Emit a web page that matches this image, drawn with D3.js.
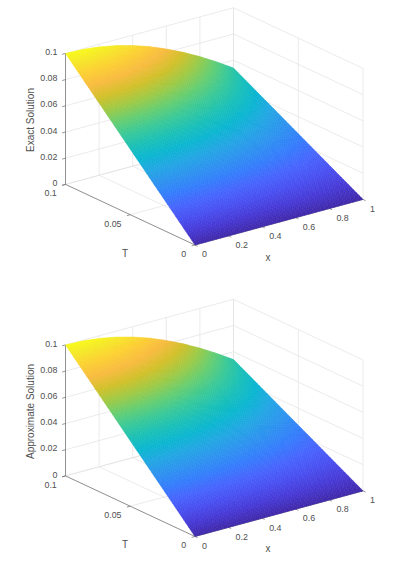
<!DOCTYPE html>
<html>
<head>
<meta charset="utf-8">
<script src="https://cdn.jsdelivr.net/npm/d3@7"></script>
<style>
  html, body { margin: 0; padding: 0; background: #fff; }
  text { font-family: "Liberation Sans", Arial, sans-serif; fill: #505050; }
</style>
</head>
<body>
<div id="chart"></div>
<script>
// grid of the surface
var xGrid = [0, 0.1, 0.2, 0.3, 0.4, 0.5, 0.6, 0.7, 0.8, 0.9, 1];
var tGrid = [0, 0.01, 0.02, 0.03, 0.04, 0.05, 0.06, 0.07, 0.08, 0.09, 0.1];

// one row per T, one column per x
var zExact = [
  [0, 0, 0, 0, 0, 0, 0, 0, 0, 0, 0],
  [.0100, .0100, .0098, .0096, .0092, .0088, .0083, .0076, .0070, .0062, .0054],
  [.0200, .0199, .0196, .0191, .0184, .0176, .0165, .0153, .0139, .0124, .0108],
  [.0300, .0299, .0294, .0287, .0276, .0263, .0248, .0229, .0209, .0187, .0162],
  [.0400, .0398, .0392, .0382, .0368, .0351, .0330, .0306, .0279, .0249, .0216],
  [.0500, .0498, .0490, .0478, .0461, .0439, .0413, .0382, .0348, .0311, .0270],
  [.0600, .0597, .0588, .0573, .0553, .0527, .0495, .0459, .0418, .0373, .0324],
  [.0700, .0697, .0686, .0669, .0645, .0614, .0578, .0535, .0488, .0435, .0378],
  [.0800, .0796, .0784, .0764, .0737, .0702, .0660, .0612, .0557, .0497, .0432],
  [.0900, .0896, .0882, .0860, .0829, .0790, .0743, .0688, .0627, .0559, .0486],
  [.1000, .0995, .0980, .0955, .0921, .0878, .0825, .0765, .0697, .0622, .0540]
];

// the lower surface reads the same within what the picture shows
var zApprox = [
  [0, 0, 0, 0, 0, 0, 0, 0, 0, 0, 0],
  [.0100, .0100, .0098, .0096, .0092, .0088, .0083, .0076, .0070, .0062, .0054],
  [.0200, .0199, .0196, .0191, .0184, .0176, .0165, .0153, .0139, .0124, .0108],
  [.0300, .0299, .0294, .0287, .0276, .0263, .0248, .0229, .0209, .0187, .0162],
  [.0400, .0398, .0392, .0382, .0368, .0351, .0330, .0306, .0279, .0249, .0216],
  [.0500, .0498, .0490, .0478, .0461, .0439, .0413, .0382, .0348, .0311, .0270],
  [.0600, .0597, .0588, .0573, .0553, .0527, .0495, .0459, .0418, .0373, .0324],
  [.0700, .0697, .0686, .0669, .0645, .0614, .0578, .0535, .0488, .0435, .0378],
  [.0800, .0796, .0784, .0764, .0737, .0702, .0660, .0612, .0557, .0497, .0432],
  [.0900, .0896, .0882, .0860, .0829, .0790, .0743, .0688, .0627, .0559, .0486],
  [.1000, .0995, .0980, .0955, .0921, .0878, .0825, .0765, .0697, .0622, .0540]
];

// ticks
var xTicks = [0, 0.2, 0.4, 0.6, 0.8, 1];
var tTicks = [0, 0.05, 0.1];
var zTicks = [0, 0.02, 0.04, 0.06, 0.08, 0.1];

// parula colormap, every 4th of the 64 entries
var parulaStops = ["#3e26a8", "#4537d5", "#474df0", "#4563fd", "#327bfc", "#2b91ef",
  "#20a5e3", "#08b5d0", "#18bfb6", "#37c897", "#64cd6f", "#9dc943", "#d1bf27",
  "#f8ba3d", "#fccf30", "#f5e924", "#f9fb15"];
var parulaIndex = [0, 4, 8, 12, 16, 20, 24, 28, 32, 36, 40, 44, 48, 52, 56, 60, 63];

var width = 394, height = 567;
var panelOffset = 291.5;   // distance between the two plots

var svg = d3.select("#chart").append("svg")
  .attr("width", width)
  .attr("height", height)
  .style("display", "block");

// oblique projection, each data axis gets one scale per screen direction
var originX = 195, originY = 245;
var xToScreenX = d3.scaleLinear().domain([0, 1]).range([0, 168]);
var xToScreenY = d3.scaleLinear().domain([0, 1]).range([0, -45.6]);
var tToScreenX = d3.scaleLinear().domain([0, 0.1]).range([0, -129.5]);
var tToScreenY = d3.scaleLinear().domain([0, 0.1]).range([0, -60.6]);
var zToScreenY = d3.scaleLinear().domain([0, 0.1]).range([0, -131]);

var colorScale = d3.scaleLinear()
  .domain(parulaIndex.map(function(d) { return 0.1 * d / 63; }))
  .range(parulaStops)
  .clamp(true);

function project(x, t, z) {
  return [originX + xToScreenX(x) + tToScreenX(t),
          originY + xToScreenY(x) + tToScreenY(t) + zToScreenY(z)];
}

var gridColor = "#e3e3e3", axisColor = "#6b6b6b";
var SUB = 8;  // every grid cell is split to get the smooth shading

function drawPanel(dy, label, zMatrix) {
  var g = svg.append("g").attr("transform", "translate(0," + dy + ")");

  function line3d(layer, a, b, color) {
    var p = project(a[0], a[1], a[2]), q = project(b[0], b[1], b[2]);
    layer.append("line")
      .attr("x1", p[0]).attr("y1", p[1])
      .attr("x2", q[0]).attr("y2", q[1])
      .attr("stroke", color)
      .attr("stroke-width", 0.7);
  }

  // back walls and floor
  var grid = g.append("g");
  xTicks.forEach(function(x) {
    line3d(grid, [x, 0, 0], [x, 0.1, 0], gridColor);
    line3d(grid, [x, 0.1, 0], [x, 0.1, 0.1], gridColor);
  });
  tTicks.forEach(function(t) {
    line3d(grid, [0, t, 0], [1, t, 0], gridColor);
    line3d(grid, [1, t, 0], [1, t, 0.1], gridColor);
  });
  zTicks.forEach(function(z) {
    line3d(grid, [0, 0.1, z], [1, 0.1, z], gridColor);
    line3d(grid, [1, 0.1, z], [1, 0, z], gridColor);
  });

  // axes
  var axes = g.append("g");
  line3d(axes, [0, 0, 0], [1, 0, 0], axisColor);
  line3d(axes, [0, 0, 0], [0, 0.1, 0], axisColor);
  line3d(axes, [0, 0.1, 0], [0, 0.1, 0.1], axisColor);

  // surface, from the back to the front
  var surface = g.append("g");
  for (var j = tGrid.length - 2; j >= 0; j--) {
    for (var i = 0; i < xGrid.length - 1; i++) {
      drawCell(surface, zMatrix, i, j);
    }
  }

  // ticks and their labels
  var tickLen = 3.5 / 173.6;
  zTicks.forEach(function(z) {
    line3d(axes, [0, 0.1, z], [-tickLen, 0.1, z], axisColor);
    var p = project(0, 0.1, z);
    g.append("text")
      .attr("x", p[0] - 8)
      .attr("y", p[1] - 1.5)
      .attr("dy", "0.35em")
      .attr("text-anchor", "end")
      .style("font-size", "8.9px")
      .text(z);
  });
  tTicks.forEach(function(t) {
    line3d(axes, [0, t, 0], [-tickLen, t, 0], axisColor);
    var p = project(0, t, 0);
    g.append("text")
      .attr("x", p[0] - 8.7)
      .attr("y", p[1] + 8.7)
      .attr("dy", "0.35em")
      .attr("text-anchor", "end")
      .style("font-size", "8.9px")
      .text(t);
  });
  xTicks.forEach(function(x) {
    line3d(axes, [x, 0, 0], [x, -0.002, 0], axisColor);
    var p = project(x, 0, 0);
    g.append("text")
      .attr("x", p[0] + 7)
      .attr("y", p[1] + 9.2)
      .attr("dy", "0.35em")
      .attr("text-anchor", "start")
      .style("font-size", "8.9px")
      .text(x);
  });

  // axis titles
  g.append("text")
    .attr("transform", "translate(30,120) rotate(-90)")
    .attr("dy", "0.35em")
    .attr("text-anchor", "middle")
    .style("font-size", "10px")
    .text(label);
  g.append("text")
    .attr("x", 125).attr("y", 253)
    .attr("dy", "0.35em")
    .attr("text-anchor", "middle")
    .style("font-size", "10px")
    .text("T");
  g.append("text")
    .attr("x", 268).attr("y", 257)
    .attr("dy", "0.35em")
    .attr("text-anchor", "middle")
    .style("font-size", "10px")
    .text("x");
}

// interpolated shading of one cell
function drawCell(layer, zMatrix, i, j) {
  var x0 = xGrid[i], x1 = xGrid[i + 1], t0 = tGrid[j], t1 = tGrid[j + 1];
  var xMix = d3.interpolateNumber(x0, x1), tMix = d3.interpolateNumber(t0, t1);

  function zAt(u, v) {
    return (1 - u) * (1 - v) * zMatrix[j][i] + u * (1 - v) * zMatrix[j][i + 1] +
           (1 - u) * v * zMatrix[j + 1][i] + u * v * zMatrix[j + 1][i + 1];
  }

  for (var b = SUB - 1; b >= 0; b--) {
    for (var a = 0; a < SUB; a++) {
      var u0 = a / SUB, u1 = (a + 1) / SUB, v0 = b / SUB, v1 = (b + 1) / SUB;
      var corners = [
        project(xMix(u0), tMix(v0), zAt(u0, v0)),
        project(xMix(u1), tMix(v0), zAt(u1, v0)),
        project(xMix(u1), tMix(v1), zAt(u1, v1)),
        project(xMix(u0), tMix(v1), zAt(u0, v1))
      ];
      var c = colorScale(zAt((u0 + u1) / 2, (v0 + v1) / 2));
      layer.append("path")
        .attr("d", "M" + corners.join("L") + "Z")
        .attr("fill", c)
        .attr("stroke", c)
        .attr("stroke-width", 0.5);
    }
  }
}

drawPanel(0, "Exact Solution", zExact);
drawPanel(panelOffset, "Approximate Solution", zApprox);
</script>
</body>
</html>
